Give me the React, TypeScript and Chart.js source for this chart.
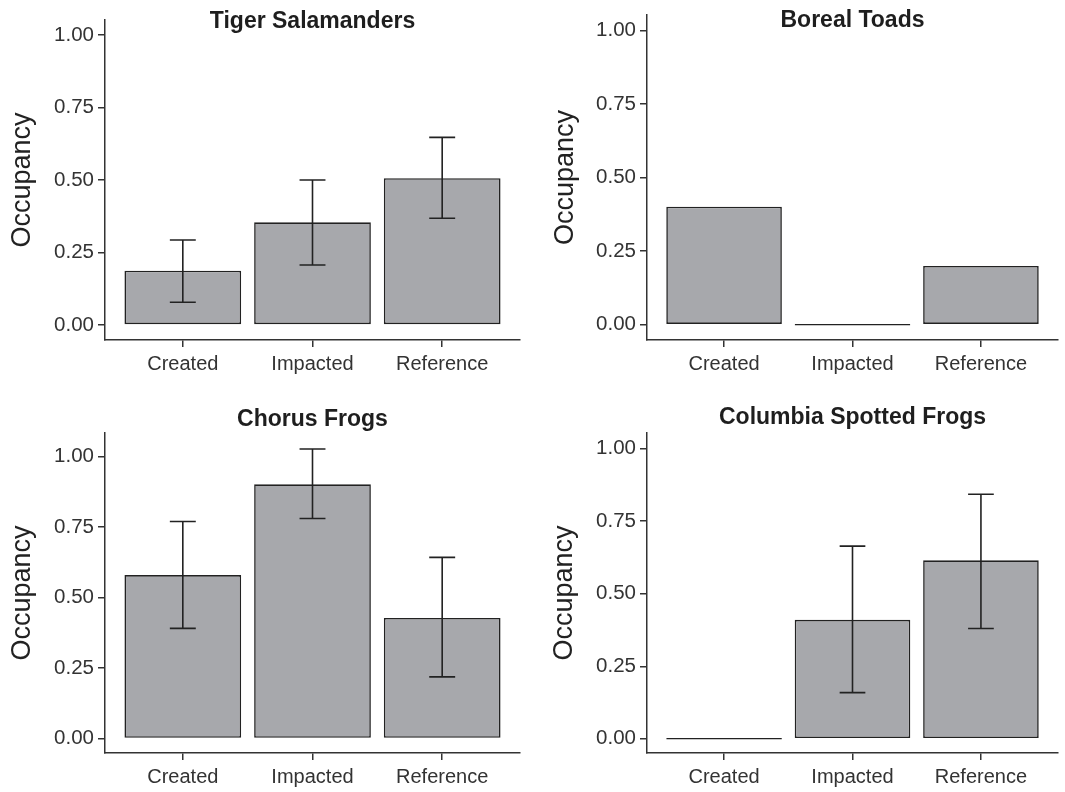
import React, { useEffect, useRef } from 'react';
import { Chart, registerables } from 'chart.js';

Chart.register(...registerables);

// ---------- data ----------
const categories = ['Created', 'Impacted', 'Reference'];
const categoryPositions = [1, 2, 3];
const yTickValues = [0, 0.25, 0.5, 0.75, 1.0];
const panelTitles = ['Tiger Salamanders', 'Boreal Toads', 'Chorus Frogs', 'Columbia Spotted Frogs'];
const yAxisLabel = 'Occupancy';

const tigerOccupancy = [0.187, 0.354, 0.506];
const tigerLower = [0.078, 0.207, 0.368];
const tigerUpper = [0.293, 0.5, 0.647];

const borealOccupancy = [0.401, 0.0, 0.2];
const borealLower = [null, null, null];
const borealUpper = [null, null, null];

const chorusOccupancy = [0.58, 0.902, 0.428];
const chorusLower = [0.391, 0.781, 0.219];
const chorusUpper = [0.77, 1.027, 0.643];

const columbiaOccupancy = [0.0, 0.41, 0.615];
const columbiaLower = [null, 0.159, 0.38];
const columbiaUpper = [null, 0.664, 0.843];

const yLimits = [
  [-0.052, 1.052],
  [-0.052, 1.053],
  [-0.051, 1.084],
  [-0.049, 1.054],
];

const series = [
  { values: tigerOccupancy, lower: tigerLower, upper: tigerUpper },
  { values: borealOccupancy, lower: borealLower, upper: borealUpper },
  { values: chorusOccupancy, lower: chorusLower, upper: chorusUpper },
  { values: columbiaOccupancy, lower: columbiaLower, upper: columbiaUpper },
];

// ---------- layout (page pixels) ----------
const frames = [
  { x: 0, y: 0, w: 532, h: 396, left: 105, top: 20, right: 520, bottom: 340, titleY: 28, yTitleX: 23 },
  { x: 532, y: 0, w: 533, h: 396, left: 115, top: 15, right: 526, bottom: 340, titleY: 27, yTitleX: 34 },
  { x: 0, y: 396, w: 532, h: 396, left: 105, top: 37, right: 520, bottom: 357, titleY: 30, yTitleX: 23 },
  { x: 532, y: 396, w: 533, h: 396, left: 115, top: 37, right: 526, bottom: 357, titleY: 28, yTitleX: 33 },
];

const FONT = "'Liberation Sans', Arial, Helvetica, sans-serif";
const BAR_FILL = '#a7a8ac';
const INK = '#222222';
const AXIS = '#333333';

function Panel({ index }: { index: number }) {
  const ref = useRef<HTMLCanvasElement | null>(null);
  useEffect(() => {
    const f = frames[index];
    const s = series[index];
    const title = panelTitles[index];
    const [ymin, ymax] = yLimits[index];
    const yTitleSize = 27;
    const yTitleLH = 1.2;

    const errorBars = {
      id: 'errorBars',
      afterDatasetsDraw(chart: any) {
        const xs = chart.scales.x;
        const ys = chart.scales.y;
        const ctx = chart.ctx;
        ctx.save();
        ctx.strokeStyle = INK;
        ctx.lineWidth = 1.6;
        s.values.forEach((_v: number, i: number) => {
          const lo = s.lower[i];
          const hi = s.upper[i];
          if (lo == null || hi == null) return;
          const pos = categoryPositions[i];
          const cx = xs.getPixelForValue(pos);
          const half = xs.getPixelForValue(pos + 0.1) - cx;
          const yl = ys.getPixelForValue(lo);
          const yh = ys.getPixelForValue(hi);
          ctx.beginPath();
          ctx.moveTo(cx, yl);
          ctx.lineTo(cx, yh);
          ctx.moveTo(cx - half, yl);
          ctx.lineTo(cx + half, yl);
          ctx.moveTo(cx - half, yh);
          ctx.lineTo(cx + half, yh);
          ctx.stroke();
        });
        ctx.restore();
      },
    };

    const panelTitle = {
      id: 'panelTitle',
      afterDraw(chart: any) {
        const ctx = chart.ctx;
        const a = chart.chartArea;
        ctx.save();
        ctx.font = `bold 23px ${FONT}`;
        ctx.fillStyle = '#1e1e1e';
        ctx.textAlign = 'center';
        ctx.textBaseline = 'alphabetic';
        ctx.fillText(title, (a.left + a.right) / 2, f.titleY);
        ctx.restore();
      },
    };

    const chart = new Chart(ref.current as HTMLCanvasElement, {
      type: 'bar',
      data: {
        datasets: [
          {
            data: s.values.map((v: number, i: number) => ({ x: categoryPositions[i], y: v })),
            backgroundColor: BAR_FILL,
            borderColor: INK,
            borderWidth: 1.6,
            borderSkipped: false,
            minBarLength: 1.5,
            barPercentage: 0.9,
            categoryPercentage: 1,
          } as any,
        ],
      },
      options: {
        animation: false,
        responsive: false,
        devicePixelRatio: 1,
        layout: {
          padding: { left: 0, top: f.top, right: f.w - f.right, bottom: 0 },
        },
        plugins: {
          legend: { display: false },
          tooltip: { enabled: false },
          title: { display: false },
        },
        scales: {
          x: {
            type: 'linear',
            min: 0.4,
            max: 3.6,
            offset: false,
            afterBuildTicks: (scale: any) => {
              scale.ticks = categoryPositions.map((v) => ({ value: v }));
            },
            afterFit: (scale: any) => {
              scale.height = f.h - f.bottom;
            },
            ticks: {
              callback: (v: any) => categories[categoryPositions.indexOf(Number(v))] ?? '',
              font: { family: FONT, size: 20 },
              color: '#333',
              padding: 5,
              maxRotation: 0,
              autoSkip: false,
            },
            grid: {
              offset: false,
              drawOnChartArea: false,
              drawTicks: true,
              tickLength: 7,
              tickColor: AXIS,
              tickWidth: 1.5,
              color: AXIS,
              lineWidth: 1.5,
            },
            border: { display: true, color: AXIS, width: 1.5 },
          } as any,
          y: {
            type: 'linear',
            min: ymin,
            max: ymax,
            afterBuildTicks: (scale: any) => {
              scale.ticks = yTickValues.map((v) => ({ value: v }));
            },
            afterFit: (scale: any) => {
              scale.width = f.left;
            },
            ticks: {
              callback: (v: any) => Number(v).toFixed(2),
              font: { family: FONT, size: 20.5, lineHeight: 1 },
              color: '#333',
              padding: 4,
            },
            grid: {
              drawOnChartArea: false,
              drawTicks: true,
              tickLength: 7,
              tickColor: AXIS,
              tickWidth: 1.5,
              color: AXIS,
              lineWidth: 1.5,
            },
            border: { display: true, color: AXIS, width: 1.5 },
            title: {
              display: true,
              text: yAxisLabel,
              color: '#222',
              font: { family: FONT, size: yTitleSize, lineHeight: yTitleLH },
              padding: { top: f.yTitleX - (yTitleSize * yTitleLH) / 2, bottom: 0 },
            },
          } as any,
        },
      },
      plugins: [errorBars, panelTitle],
    });
    return () => chart.destroy();
  }, [index]);

  const f = frames[index];
  return (
    <canvas
      ref={ref}
      width={f.w}
      height={f.h}
      style={{ position: 'absolute', left: f.x, top: f.y, width: f.w, height: f.h }}
    />
  );
}

export default function App() {
  return (
    <div style={{ position: 'absolute', left: 0, top: 0, width: 1065, height: 792, background: '#fff' }}>
      {frames.map((_f, i) => (
        <Panel key={i} index={i} />
      ))}
    </div>
  );
}
